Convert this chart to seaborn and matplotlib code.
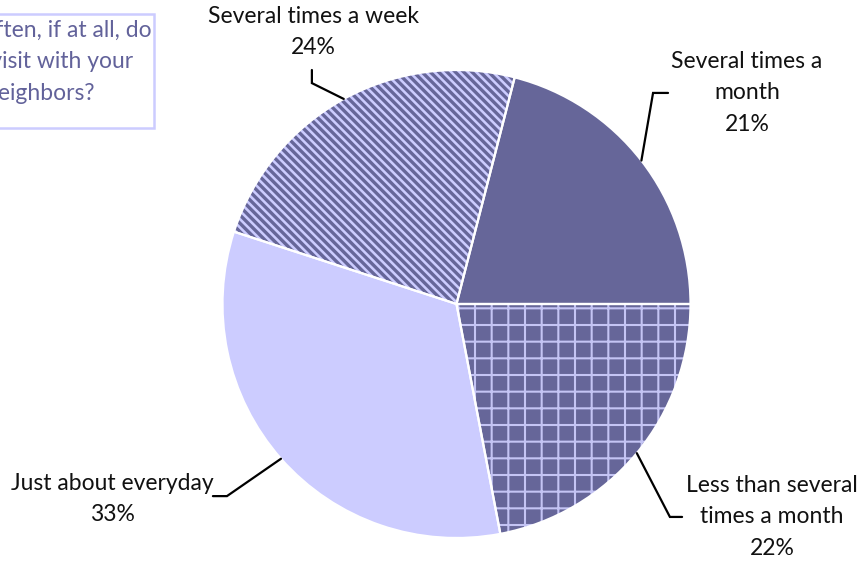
import numpy as np
import matplotlib
matplotlib.use("Agg")
import matplotlib.pyplot as plt
from matplotlib.patches import Rectangle
import seaborn as sns

# Survey answers, listed clockwise starting from the upper-right wedge
categories = ["Several times a\nmonth", "Less than several\ntimes a month",
              "Just about everyday", "Several times a week"]
shares = [21, 22, 33, 24]
question = "How often, if at all, do\nyou visit with your\nneighbors?"

DARK = "#666699"
LIGHT = "#ccccff"
base_colors = [DARK, DARK, LIGHT, LIGHT]
hatches = [None, "+", None, "\\" * 4]
hatch_colors = [None, "#c4c4f4", None, DARK]
hatch_widths = [None, 1.5, None, 2.4]

sns.set_theme(style="white")
plt.rcParams["font.family"] = ["Lato", "DejaVu Sans"]

W, H = 861, 564
fig = plt.figure(figsize=(W / 100, H / 100), dpi=100)
cx, cy, r = 456.5, 304, 234
ax = fig.add_axes([(cx - r) / W, (H - cy - r) / H, 2 * r / W, 2 * r / H])
ax.set_axis_off()

palette = sns.color_palette(base_colors)
start = 75.6

# solid fills
wedges, _ = ax.pie(shares, colors=palette, startangle=start, counterclock=False,
                   radius=1, wedgeprops=dict(linewidth=0))

# hatched overlays, one wedge at a time
for i, (h, hc, hw) in enumerate(zip(hatches, hatch_colors, hatch_widths)):
    if h is None:
        continue
    plt.rcParams["hatch.linewidth"] = hw
    ws, _ = ax.pie(shares, colors=["none"] * 4, startangle=start, counterclock=False,
                   radius=1, wedgeprops=dict(linewidth=0))
    for j, w in enumerate(ws):
        if j == i:
            w.set_facecolor("none")
            w.set_edgecolor(hc)
            w.set_hatch(h)
            w.set_linewidth(0)
        else:
            w.set_visible(False)

# white separators
ax.pie(shares, colors=["none"] * 4, startangle=start, counterclock=False, radius=1,
       wedgeprops=dict(linewidth=1.6, edgecolor="white", facecolor="none"))

ax.set_xlim(-1, 1)
ax.set_ylim(-1, 1)
ax.set_aspect("equal", adjustable="box")

# label layout (data units): elbow point, leader end, text centre
layout = [
    dict(elbow=(0.840, 0.902), end=(0.904, 0.902), text=(1.241, 0.902)),
    dict(elbow=(0.912, -0.910), end=(0.964, -0.910), text=(1.348, -0.910)),
    dict(elbow=(-0.981, -0.821), end=(-1.041, -0.821), text=(-1.472, -0.835)),
    dict(elbow=(-0.618, 0.944), end=(-0.618, 1.0), text=(-0.613, 1.162)),
]

for w, lab, val, lay in zip(wedges, categories, shares, layout):
    mid = np.deg2rad((w.theta1 + w.theta2) / 2)
    p0 = (np.cos(mid), np.sin(mid))
    xs = [p0[0], lay["elbow"][0], lay["end"][0]]
    ys = [p0[1], lay["elbow"][1], lay["end"][1]]
    ax.plot(xs, ys, color="black", lw=1.6, clip_on=False, solid_joinstyle="miter")
    ax.text(lay["text"][0], lay["text"][1], f"{lab}\n{val}%", ha="center", va="center",
            fontsize=16.5, color="#111111", linespacing=1.6, clip_on=False)

# question box in the corner
fig.add_artist(Rectangle((-60 / W, (H - 128) / H), (154 + 60) / W, 114 / H,
                         transform=fig.transFigure, facecolor="white",
                         edgecolor=LIGHT, linewidth=1.8))
fig.text(40 / W, (H - 62) / H, question, ha="center", va="center", fontsize=16.5,
         color="#62629a", linespacing=1.6)

fig.savefig("out.png", dpi=100)
